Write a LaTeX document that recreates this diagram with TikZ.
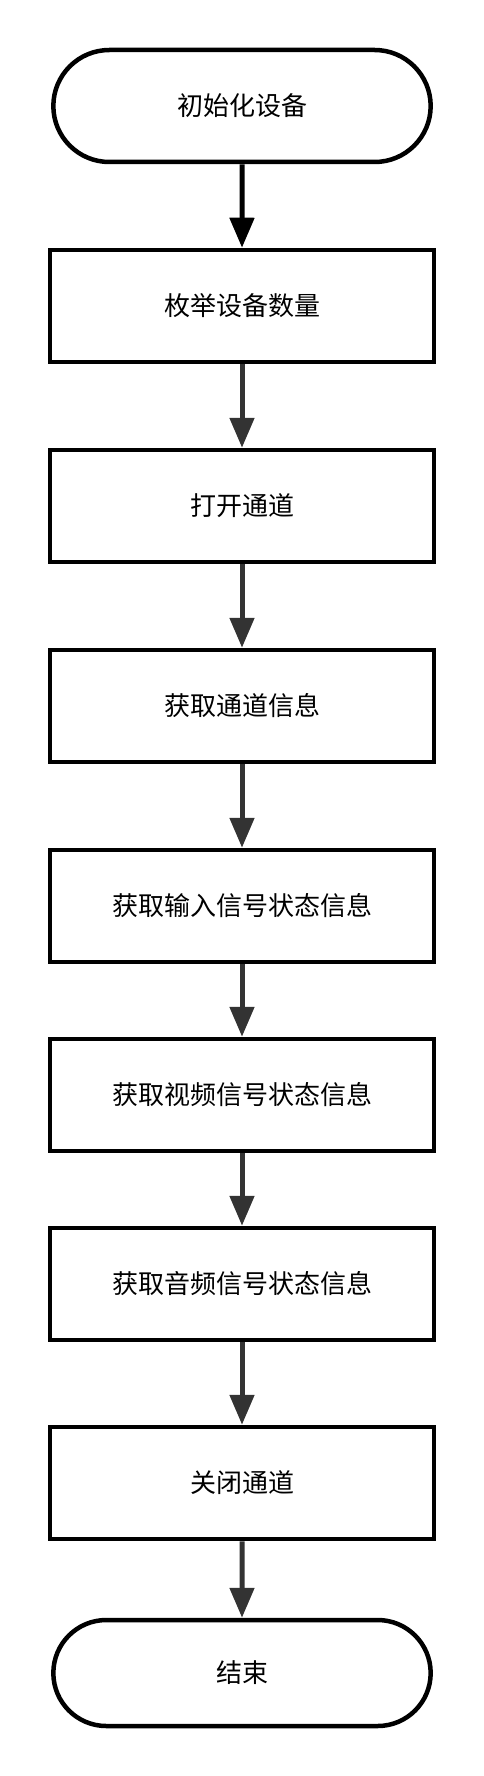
\documentclass[tikz,border=0pt]{standalone}
\usepackage{fontspec}
\setmainfont{Noto Sans CJK SC}
\usetikzlibrary{shapes.misc,arrows.meta}
\definecolor{arrowgray}{HTML}{333333}

\begin{document}
\begin{tikzpicture}[x=1pt, y=-1pt,
    box/.style={draw, line width=4.5pt, minimum width=384pt, minimum height=112pt,
        font=\fontsize{26}{30}\selectfont},
    term/.style={box, rounded rectangle},
    flow/.style={line width=5pt, draw=arrowgray, -{Triangle[length=30pt,width=24pt]}}]
    \useasboundingbox (0,0) rectangle (484,1776);

    % 开始
    \node[term] (start) at (242,106) {初始化设备};

    % 各处理步骤
    \node[box] (enum)  at (242,306)  {枚举设备数量};
    \node[box] (open)  at (242,506)  {打开通道};
    \node[box] (chan)  at (242,706)  {获取通道信息};
    \node[box] (input) at (242,906)  {获取输入信号状态信息};
    \node[box] (video) at (242,1095) {获取视频信号状态信息};
    \node[box] (audio) at (242,1284) {获取音频信号状态信息};
    \node[box] (close) at (242,1483) {关闭通道};

    % 结束
    \node[term, minimum height=106pt] (stop) at (242,1673) {结束};

    \draw[flow, draw=black, fill=black] (start) -- (enum);
    \draw[flow] (enum) -- (open);
    \draw[flow] (open) -- (chan);
    \draw[flow] (chan) -- (input);
    \draw[flow] (input) -- (video);
    \draw[flow] (video) -- (audio);
    \draw[flow] (audio) -- (close);
    \draw[flow] (close) -- (stop);
\end{tikzpicture}
\end{document}
